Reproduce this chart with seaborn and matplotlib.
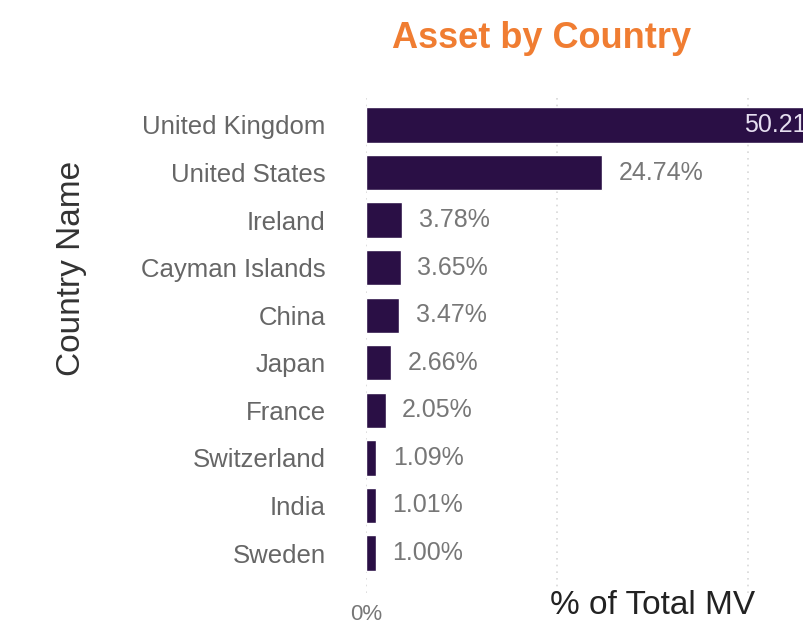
import numpy as np
import matplotlib
matplotlib.use("Agg")
import matplotlib.pyplot as plt
import pandas as pd
import seaborn as sns

countries = ["United Kingdom", "United States", "Ireland", "Cayman Islands", "China",
             "Japan", "France", "Switzerland", "India", "Sweden"]
pct_mv = [50.21, 24.74, 3.78, 3.65, 3.47, 2.66, 2.05, 1.09, 1.01, 1.00]
x_ticks = [0, 20, 40]
# only 0% is readable in the source, the others sit under the axis title
x_ticklabels = ["0%", "", ""]

df = pd.DataFrame({"Country Name": countries, "% of Total MV": pct_mv})

sns.set_style("white")
plt.rcParams["font.family"] = ["Liberation Sans", "DejaVu Sans"]

fig = plt.figure(figsize=(8.04, 6.21), dpi=100)
# axes runs past the right edge, the picture is cropped there
ax = fig.add_axes([366 / 804, 28 / 621, 55 * 9.54 / 804, 498 / 621])

sns.barplot(data=df, x="% of Total MV", y="Country Name", color="#2a0f45",
            saturation=1, width=0.74, ax=ax)
ax.set_xlim(0, 55)
ax.set_ylim(9.84, -0.63)

ax.set_xticks(x_ticks)
ax.set_xticklabels(x_ticklabels, color="#777777", fontsize=16)
ax.tick_params(axis="x", length=0, pad=8)
ax.tick_params(axis="y", length=0, pad=29, labelsize=18.5, labelcolor="#666666")
ax.grid(axis="x", linestyle=(0, (1, 3)), color="#d8d8d8", linewidth=1.2)
ax.set_axisbelow(True)
sns.despine(ax=ax, left=True, bottom=True)

for i, v in enumerate(pct_mv):
    if v > 40:
        ax.annotate(f"{v:.2f}%", (v, i), xytext=(-12, 0), textcoords="offset points",
                    ha="right", va="center", fontsize=18, color="#e6dff0")
    else:
        ax.annotate(f"{v:.2f}%", (v, i), xytext=(12, 0), textcoords="offset points",
                    ha="left", va="center", fontsize=18, color="#777777")

ax.set_ylabel("Country Name", fontsize=24, color="#333333")
ax.yaxis.set_label_coords(87 / 804, 1 - 268 / 621, transform=fig.transFigure)

ax.set_xlabel("")
fig.text(653 / 804, 1 - 605 / 621, "% of Total MV", fontsize=24, color="#222222",
         ha="center", va="center")

fig.text(542 / 804, 1 - 38 / 621, "Asset by Country", fontsize=26, fontweight="bold",
         color="#f07d32", ha="center", va="center")

fig.savefig("out.png", dpi=100)
